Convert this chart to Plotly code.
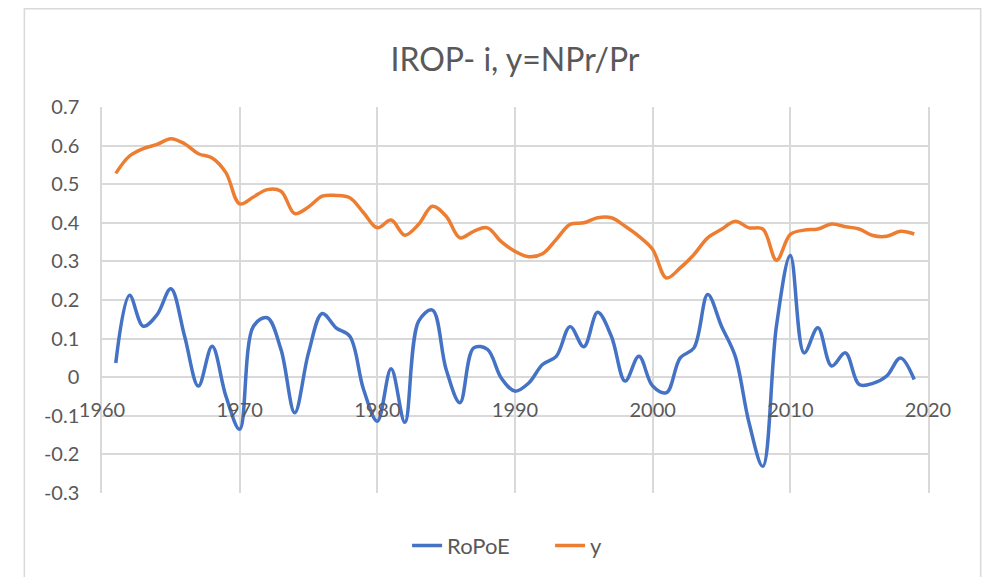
import plotly.graph_objects as go

years = list(range(1961, 2020))
ropoe = [0.037, 0.212, 0.132, 0.162, 0.229, 0.106, -0.023, 0.080, -0.049, -0.135,
         0.132, 0.154, 0.072, -0.092, 0.063, 0.165, 0.128, 0.106, -0.032, -0.114,
         0.022, -0.117, 0.145, 0.174, 0.020, -0.066, 0.076, 0.072, -0.002, -0.036,
         -0.015, 0.033, 0.054, 0.131, 0.079, 0.168, 0.106, -0.010, 0.054, -0.023,
         -0.040, 0.050, 0.076, 0.214, 0.132, 0.054, -0.118, -0.231, 0.135, 0.315,
         0.063, 0.128, 0.029, 0.063, -0.019, -0.016, 0.003, 0.050, -0.006]
yratio = [0.528, 0.573, 0.592, 0.603, 0.618, 0.605, 0.579, 0.568, 0.530, 0.449,
          0.467, 0.486, 0.482, 0.424, 0.441, 0.469, 0.471, 0.465, 0.426, 0.387,
          0.407, 0.368, 0.396, 0.443, 0.417, 0.361, 0.378, 0.387, 0.351, 0.326,
          0.312, 0.320, 0.357, 0.396, 0.400, 0.413, 0.413, 0.391, 0.365, 0.331,
          0.257, 0.283, 0.318, 0.361, 0.383, 0.404, 0.387, 0.384, 0.303, 0.370,
          0.381, 0.384, 0.397, 0.390, 0.384, 0.367, 0.365, 0.378, 0.371]
y_tickvals = [0.7, 0.6, 0.5, 0.4, 0.3, 0.2, 0.1, 0, -0.1, -0.2, -0.3]
y_ticktext = ["0.7", "0.6", "0.5", "0.4", "0.3", "0.2", "0.1", "0", "-0.1", "-0.2", "-0.3"]
x_tickvals = [1960, 1970, 1980, 1990, 2000, 2010, 2020]
x_ticktext = ["1960", "1970", "1980", "1990", "2000", "2010", "2020"]

FONT = "Lato"
TXT = "#595959"
GRID = "#d9d9d9"

fig = go.Figure()
fig.add_trace(go.Scatter(x=years, y=ropoe, name="RoPoE", mode="lines",
                         line=dict(color="#4472C4", width=3.5, shape="spline", smoothing=1)))
fig.add_trace(go.Scatter(x=years, y=yratio, name="y", mode="lines",
                         line=dict(color="#ED7D31", width=3.5, shape="spline", smoothing=1)))

L, R, T, B = 101.7, 928.3, 107.3, 493.3
W, H = 990, 577
pw, ph = R - L, B - T
zero_pos = (B - 377.7) / ph

fig.update_layout(
    width=W, height=H,
    margin=dict(l=L, r=W - R, t=T, b=H - B, autoexpand=False),
    paper_bgcolor="white", plot_bgcolor="white",
    title=dict(text="IROP- i, y=NPr/Pr", x=515 / W, xanchor="center",
               y=1 - 60 / H, yanchor="middle", yref="container",
               font=dict(family=FONT, size=32, color=TXT)),
    font=dict(family=FONT, color=TXT),
    showlegend=True,
    legend=dict(orientation="h", x=(407 - L) / pw, xanchor="left", y=(B - 546) / ph,
                yanchor="middle", entrywidth=98, entrywidthmode="pixels",
                font=dict(family=FONT, size=22, color=TXT), bgcolor="rgba(0,0,0,0)"),
    xaxis=dict(range=[1960, 2020], tickvals=x_tickvals, ticktext=x_ticktext,
               showgrid=True, gridcolor=GRID, gridwidth=1.5,
               anchor="free", position=zero_pos, showline=False, zeroline=False,
               ticks="", ticklabelstandoff=19,
               tickfont=dict(family=FONT, size=20, color=TXT)),
    xaxis2=dict(range=[1960, 2020], overlaying="x", anchor="y", side="bottom",
                showline=True, mirror=True, linecolor=GRID, linewidth=1.5,
                showgrid=False, zeroline=False, showticklabels=False, ticks=""),
    yaxis=dict(range=[-0.3, 0.7], tickvals=y_tickvals, ticktext=y_ticktext,
               showgrid=True, gridcolor=GRID, gridwidth=1.5,
               zeroline=True, zerolinecolor=GRID, zerolinewidth=1.5,
               showline=True, linecolor=GRID, linewidth=1.5, mirror=True,
               ticks="", ticklabelstandoff=17,
               tickfont=dict(family=FONT, size=20, color=TXT)),
)

fig.add_shape(type="rect", xref="paper", yref="paper",
              x0=(24 - L) / pw, x1=(981 - L) / pw,
              y0=(B - 585) / ph, y1=(B - 9) / ph,
              line=dict(color=GRID, width=1.5), fillcolor="rgba(0,0,0,0)", layer="below")

fig.write_html("out.html", config={"displayModeBar": False},
               post_script="document.body.style.margin='0';document.body.style.overflow='hidden';")
